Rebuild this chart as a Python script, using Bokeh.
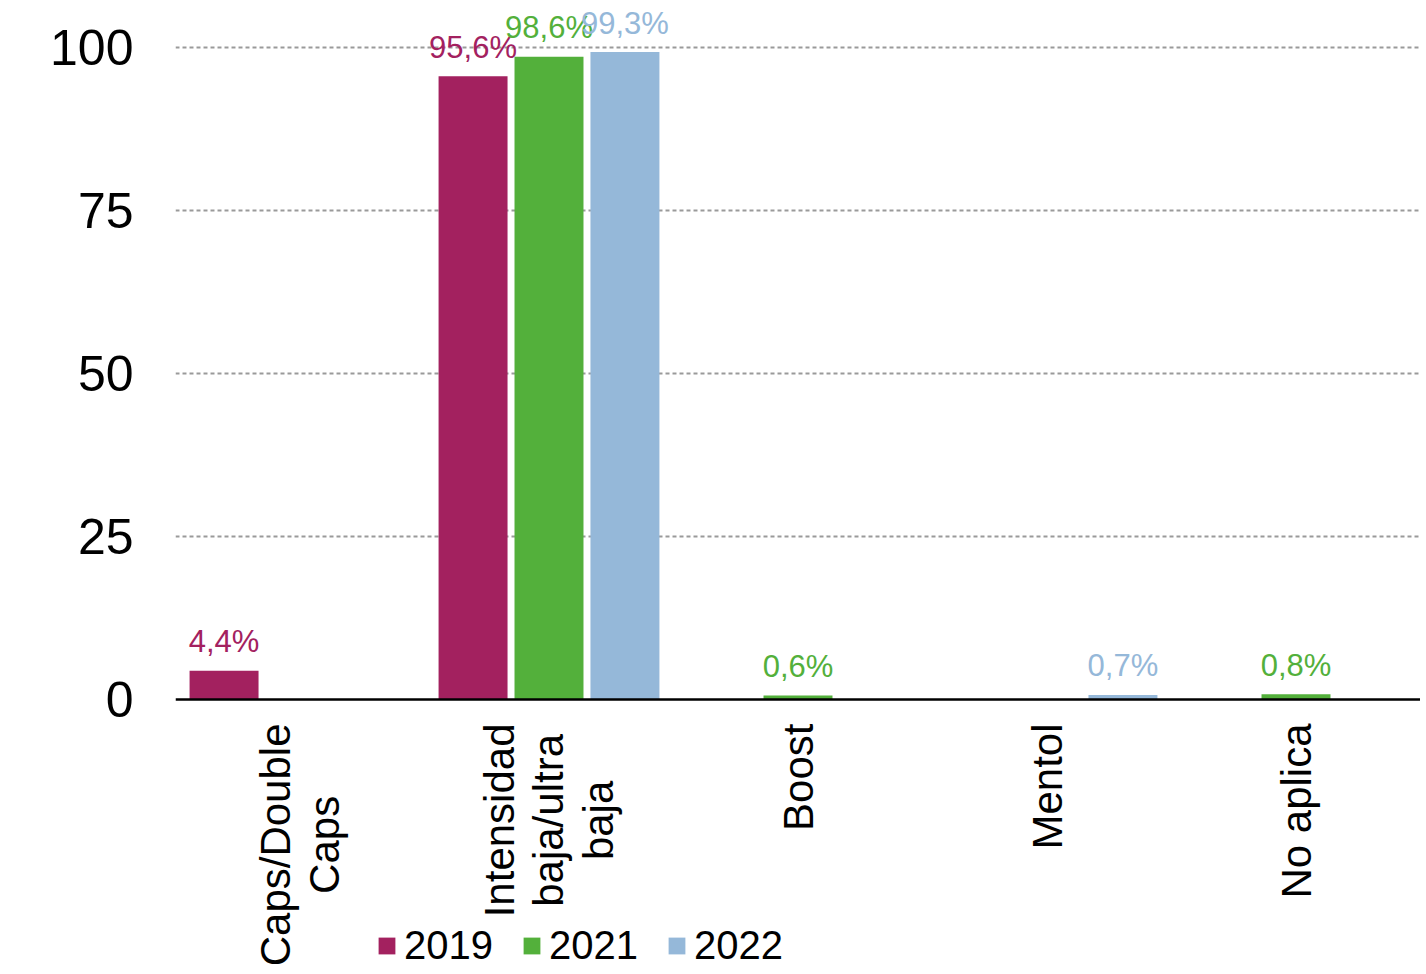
import math
from bokeh.plotting import figure
from bokeh.models import (ColumnDataSource, FactorRange, Range1d, FixedTicker, Legend,
                          LegendItem, Span)
from bokeh.transform import dodge
from bokeh.core.properties import value
from bokeh.embed import file_html
from bokeh.resources import INLINE

categories = ["Caps/Double\nCaps", "Intensidad\nbaja/ultra\nbaja", "Boost", "Mentol", "No aplica"]
years = ["2019", "2021", "2022"]
v2019 = [4.4, 95.6, 0, 0, 0]
v2021 = [0, 98.6, 0.6, 0, 0.8]
v2022 = [0, 99.3, 0, 0.7, 0]
colors = ["#A3215F", "#53B03B", "#95B8D9"]
y_ticks = [0, 25, 50, 75, 100]

FONT = "Liberation Sans"
series = [v2019, v2021, v2022]
offsets = [-0.305, 0.0, 0.305]

# ---- layout (pixels) ----
W, H = 1420, 972
LEFT = 175
ZERO_PX = 699          # screen y of value 0
PX_PER_UNIT = 6.52
y_start = -(H - ZERO_PX) / PX_PER_UNIT
y_end = ZERO_PX / PX_PER_UNIT

CAT_FS = 42
CAT_STANDOFF = 24

# Arial / Liberation Sans advance widths (per 1000 em)
AW = {"C": 722, "a": 556, "p": 556, "s": 500, "/": 278, "D": 722, "o": 556, "u": 556,
      "b": 556, "l": 222, "e": 556, "I": 278, "n": 556, "t": 278, "i": 222, "d": 556,
      "j": 222, "r": 333, "B": 667, "M": 833, "N": 722, " ": 278, "c": 500}


def text_len(s, fs):
    return max(sum(AW.get(ch, 556) for ch in line) for line in s.split("\n")) * fs / 1000


p = figure(width=W, height=H, x_range=FactorRange(*categories, range_padding=0),
           y_range=Range1d(y_start, y_end), output_backend="svg", toolbar_location=None,
           min_border_left=LEFT, min_border_right=0, min_border_top=0, min_border_bottom=0)
p.outline_line_color = None
p.background_fill_color = "white"
p.border_fill_color = "white"

# grid
p.xgrid.visible = False
p.ygrid.ticker = FixedTicker(ticks=[t for t in y_ticks if t > 0])
p.ygrid.grid_line_color = "#9a9a9a"
p.ygrid.grid_line_dash = "4 3"
p.ygrid.grid_line_width = 2

items = []
for yr, vals, off, col in zip(years, series, offsets, colors):
    src = ColumnDataSource(dict(cat=categories, val=vals))
    r = p.vbar(x=dodge("cat", off, range=p.x_range), top="val", width=0.277, source=src,
               fill_color=col, line_color=None)
    items.append(LegendItem(label=yr, renderers=[r]))
    lc = [c for c, v in zip(categories, vals) if v > 0]
    lv = [v for v in vals if v > 0]
    lt = [f"{v:.1f}%".replace(".", ",") for v in lv]
    lsrc = ColumnDataSource(dict(cat=lc, val=lv, txt=lt))
    p.text(x=dodge("cat", off, range=p.x_range), y="val", text="txt", source=lsrc,
           text_align="center", text_baseline="alphabetic", y_offset=-29,
           text_font=value(FONT), text_font_size="31px", text_color=col)

# x axis line at zero
p.add_layout(Span(location=0, dimension="width", line_color="black", line_width=2.5))

# category labels (vertical, multi-line, centered lines)
cat_src = ColumnDataSource(dict(
    cat=categories,
    y0=[0] * len(categories),
    yoff=[CAT_STANDOFF + text_len(c, CAT_FS) / 2 for c in categories],
))
p.text(x="cat", y="y0", text="cat", source=cat_src, angle=math.pi / 2,
       y_offset="yoff", text_align="center", text_baseline="middle",
       text_font=value(FONT), text_font_size=f"{CAT_FS}px", text_color="black",
       text_line_height=1.05)

p.xaxis.visible = False

# y axis
p.yaxis.ticker = FixedTicker(ticks=y_ticks)
p.yaxis.axis_line_color = None
p.yaxis.major_tick_line_color = None
p.yaxis.minor_tick_line_color = None
p.yaxis.major_tick_out = 0
p.yaxis.major_tick_in = 0
p.yaxis.major_label_text_font = FONT
p.yaxis.major_label_text_font_size = "50px"
p.yaxis.major_label_text_color = "black"
p.yaxis.major_label_standoff = 42

legend = Legend(items=items, orientation="horizontal", location=(201, 4),
                glyph_width=21, glyph_height=21, label_standoff=7, spacing=28,
                padding=0, margin=0, border_line_color=None, background_fill_alpha=0,
                label_text_font=FONT, label_text_font_size="40px", label_text_color="black",
                label_height=21, label_text_baseline="middle")
p.add_layout(legend, "center")

open("out.html", "w").write(file_html(p, INLINE))
